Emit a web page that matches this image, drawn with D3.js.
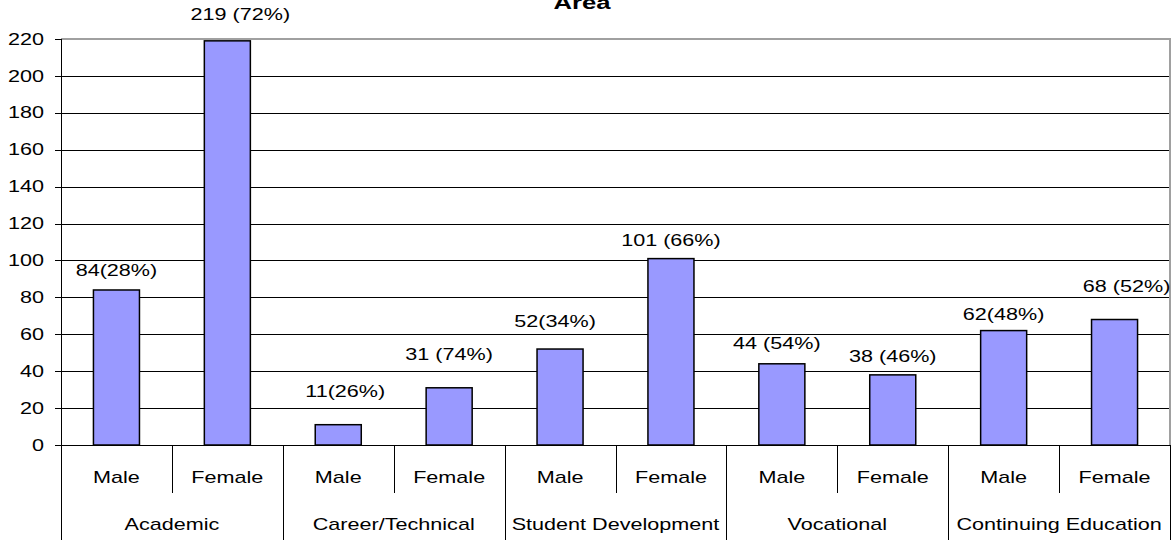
<!DOCTYPE html>
<head>
  <meta charset="utf-8">
  <script src="https://cdnjs.cloudflare.com/ajax/libs/d3/7.8.5/d3.min.js"></script>
  <style>
    body { margin:0; background:#fff; }
    svg { display:block; }
    text { font-family: "Liberation Sans", Arial, sans-serif; fill:#000; }
  </style>
</head>
<body>
  <script>
    // chart values
    var groups = ["Academic", "Career/Technical", "Student Development", "Vocational", "Continuing Education"];
    var sexes = ["Male", "Female"];
    var maleValues = [84, 11, 52, 44, 62];
    var femaleValues = [219, 31, 101, 38, 68];
    var barLabels = ["84(28%)", "219 (72%)", "11(26%)", "31 (74%)", "52(34%)",
                     "101 (66%)", "44 (54%)", "38 (46%)", "62(48%)", "68 (52%)"];
    var yTicks = [0, 20, 40, 60, 80, 100, 120, 140, 160, 180, 200, 220];

    // labels were dragged around by hand in the original, so nudge them (dx, rise above bar)
    var labelNudge = [[0, 20], [13, 26], [7, 33], [0, 33], [-5, 28],
                      [0, 18], [-5, 20], [0, 18], [0, 16], [12, 33]];

    var W = 1172, H = 540;
    var plotL = 61, plotR = 1170, plotT = 39, plotB = 445;
    var SX = 1.35; // the source picture is stretched sideways

    var rows = [];
    groups.forEach(function(g, gi){
      sexes.forEach(function(s, si){
        rows.push({group: g, sex: s, value: si == 0 ? maleValues[gi] : femaleValues[gi]});
      });
    });
    rows.forEach(function(d, i){ d.label = barLabels[i]; d.i = i; });

    var svg = d3.select("body").append("svg").attr("width", W).attr("height", H);

    var x = d3.scaleBand().domain(d3.range(rows.length)).range([plotL, plotR]);
    var y = d3.scaleLinear().domain([0, 220]).range([plotB, plotT]);

    function stretched(sel, size, weight){
      return sel.style("font-size", size + "px").style("font-weight", weight || "normal");
    }

    // title (cut off at the top in the source)
    stretched(svg.append("text"), 19, "bold")
      .attr("text-anchor", "middle")
      .attr("transform", "translate(582,9) scale(" + SX + ",1)")
      .text("Area");

    // gridlines
    svg.append("g").selectAll("line").data(yTicks.filter(function(t){ return t > 0 && t < 220; }))
      .enter().append("line")
      .attr("x1", plotL).attr("x2", plotR)
      .attr("y1", function(d){ return Math.round(y(d)) + 0.5; })
      .attr("y2", function(d){ return Math.round(y(d)) + 0.5; })
      .style("stroke", "#000").style("stroke-width", 1);

    // plot border top/right
    svg.append("path")
      .attr("d", "M" + plotL + "," + plotT + "H" + plotR + "V" + plotB)
      .style("fill", "none").style("stroke", "#a0a0a0").style("stroke-width", 2);

    // y axis
    var yAxis = svg.append("g");
    yAxis.append("line").attr("x1", plotL + 0.5).attr("x2", plotL + 0.5).attr("y1", plotT).attr("y2", H)
      .style("stroke", "#000");
    yAxis.selectAll("line.tick").data(yTicks).enter().append("line").attr("class", "tick")
      .attr("x1", plotL - 6).attr("x2", plotL)
      .attr("y1", function(d){ return Math.round(y(d)) + 0.5; })
      .attr("y2", function(d){ return Math.round(y(d)) + 0.5; })
      .style("stroke", "#000");
    stretched(yAxis.selectAll("text").data(yTicks).enter().append("text"), 16)
      .attr("text-anchor", "end")
      .attr("dy", "0.35em")
      .attr("transform", function(d){ return "translate(44," + y(d) + ") scale(" + SX + ",1)"; })
      .text(function(d){ return d; });

    // bars
    var bw = x.bandwidth() * 0.415;
    svg.append("g").selectAll("rect").data(rows).enter().append("rect")
      .attr("x", function(d){ return x(d.i) + (x.bandwidth() - bw) / 2; })
      .attr("y", function(d){ return y(d.value); })
      .attr("width", bw)
      .attr("height", function(d){ return y(0) - y(d.value); })
      .style("fill", "#9999ff").style("stroke", "#000").style("stroke-width", 1.5);

    // value labels
    stretched(svg.append("g").selectAll("text").data(rows).enter().append("text"), 16)
      .attr("text-anchor", "middle")
      .attr("dy", "0.35em")
      .attr("transform", function(d){
        var n = labelNudge[d.i];
        var cx = x(d.i) + x.bandwidth() / 2 + n[0];
        return "translate(" + cx + "," + (y(d.value) - n[1]) + ") scale(" + SX + ",1)";
      })
      .text(function(d){ return d.label; });

    // category axis
    var cat = svg.append("g");
    cat.append("line").attr("x1", plotL).attr("x2", plotR).attr("y1", plotB + 0.5).attr("y2", plotB + 0.5)
      .style("stroke", "#000");
    cat.selectAll("line.sub").data(d3.range(1, rows.length + 1)).enter().append("line").attr("class", "sub")
      .attr("x1", function(i){ return Math.round(x(i - 1) + x.bandwidth()) + 0.5; })
      .attr("x2", function(i){ return Math.round(x(i - 1) + x.bandwidth()) + 0.5; })
      .attr("y1", plotB)
      .attr("y2", function(i){ return i % 2 == 0 ? H : 493; })
      .style("stroke", "#000");
    stretched(cat.selectAll("text.sex").data(rows).enter().append("text").attr("class", "sex"), 16)
      .attr("text-anchor", "middle").attr("dy", "0.35em")
      .attr("transform", function(d){ return "translate(" + (x(d.i) + x.bandwidth() / 2) + ",477) scale(" + SX + ",1)"; })
      .text(function(d){ return d.sex; });
    stretched(cat.selectAll("text.grp").data(groups).enter().append("text").attr("class", "grp"), 16)
      .attr("text-anchor", "middle").attr("dy", "0.35em")
      .attr("transform", function(d, gi){ return "translate(" + (x(gi * 2) + x.bandwidth()) + ",524) scale(" + SX + ",1)"; })
      .text(function(d){ return d; });
  </script>
</body>
